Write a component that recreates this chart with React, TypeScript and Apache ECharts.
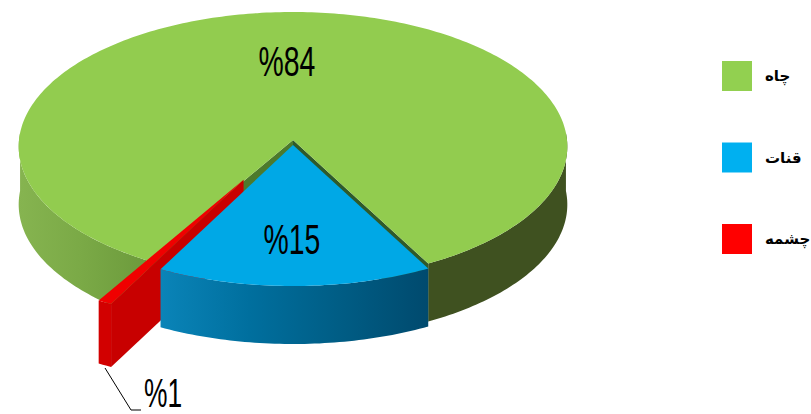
import React, { useEffect, useRef } from "react";
import * as echarts from "echarts";

const sliceNames = ["چاه", "قنات", "چشمه"];
const sliceValues = [83.71, 15.49, 0.8];
const sliceLabels = ["%84", "%15", "%1"];
const legendColors = ["#92d050", "#00b0f0", "#ff0000"];

const FIRST_ANGLE = 61.8; // where the blue slice starts, degrees clockwise on screen
const APEX_X = 293, APEX_Y = 140, RX = 274, RY = 134.2, K = -0.0483, DEPTH = 58;
const total = sliceValues.reduce((a, b) => a + b, 0);
const deg = (v: number) => (v / total) * 360;

function P(t: number, dx = 0, dy = 0): number[] {
  const a = (t * Math.PI) / 180;
  const w = 1 + K * Math.sin(a);
  return [APEX_X + (RX * Math.cos(a)) / w + dx, APEX_Y + (RY * Math.sin(a)) / w + dy];
}
function arc(a: number, b: number, dx = 0, dy = 0, depth = 0): number[][] {
  const pts: number[][] = [];
  const n = Math.max(2, Math.ceil(Math.abs(b - a)));
  for (let i = 0; i <= n; i++) pts.push(P(a + ((b - a) * i) / n, dx, dy + depth));
  return pts;
}
const poly = (points: number[][], fill: any) => ({ type: "polygon", silent: true, shape: { points }, style: { fill, stroke: null } });
const hgrad = (stops: string[]) =>
  new echarts.graphic.LinearGradient(0, 0, 1, 0, stops.map((color, i) => ({ offset: i / (stops.length - 1), color })));
const wall = (a: number, b: number, dx: number, dy: number, fill: any, depth = DEPTH) =>
  poly([...arc(a, b, dx, dy), ...arc(b, a, dx, dy, depth)], fill);
const label = (text: string, x: number, y: number, fontSize = 43) => ({
  type: "text", silent: true, x, y, scaleX: 0.66,
  style: { text, fill: "#000", fontSize, fontFamily: "'Liberation Sans', sans-serif", textAlign: "center", textVerticalAlign: "middle" },
});

const blueStart = FIRST_ANGLE;
const blueEnd = blueStart + deg(sliceValues[1]);
const redEnd = blueEnd + deg(sliceValues[2]);
const greenEnd = redEnd + deg(sliceValues[0]);

function renderGreen() {
  return {
    type: "group",
    children: [
      wall(redEnd, 183, 0, 0, hgrad(["#86b450", "#7aa946", "#6c9a3c"])),
      wall(357, greenEnd, 0, 0, "#3f5120"),
      poly([[APEX_X, APEX_Y], P(blueStart), P(blueStart, 0, DEPTH), [APEX_X, APEX_Y + DEPTH]], "#2f5a2a"),
      poly([[APEX_X, APEX_Y], P(redEnd), P(redEnd, 0, DEPTH), [APEX_X, APEX_Y + DEPTH]], "#4d7a2c"),
      poly([[APEX_X, APEX_Y], ...arc(redEnd, greenEnd)], "#92cc4f"),
      label(sliceLabels[0], 287, 61),
    ],
  };
}
function renderRed() {
  const mid = P((blueEnd + redEnd) / 2);
  const len = Math.hypot(mid[0] - APEX_X, mid[1] - APEX_Y);
  const ex = (66 * (mid[0] - APEX_X)) / len, ey = (60 * (mid[1] - APEX_Y)) / len;
  const tip = [APEX_X + ex, APEX_Y + ey];
  const depth = DEPTH + 5;
  return {
    type: "group",
    children: [
      poly([tip, P(blueEnd, ex, ey), P(blueEnd, ex, ey + depth), [tip[0], tip[1] + depth]], "#c80000"),
      wall(blueEnd, redEnd, ex, ey, "#d20000", depth),
      poly([tip, ...arc(blueEnd, redEnd, ex, ey)], "#f00000"),
      { type: "polyline", silent: true, shape: { points: [[105, 368], [131, 410], [141, 410]] }, style: { stroke: "#000", lineWidth: 1, fill: null } },
      label(sliceLabels[2], 163, 393, 40),
    ],
  };
}
function renderBlue() {
  const ey = 5;
  return {
    type: "group",
    children: [
      wall(blueStart, blueEnd, 0, ey, hgrad(["#0a84b8", "#006f9e", "#005d85", "#004a6e"])),
      poly([[APEX_X, APEX_Y + ey], ...arc(blueStart, blueEnd, 0, ey)], "#00a8e6"),
      label(sliceLabels[1], 292, 239),
    ],
  };
}

const legendNames = sliceNames;
const renderers = [renderGreen, renderBlue, renderRed];
const drawOrder = [0, 2, 1];

export default function App() {
  const ref = useRef<HTMLDivElement>(null);
  useEffect(() => {
    document.body.style.margin = "0";
    const chart = echarts.init(ref.current!, undefined, { renderer: "svg" });
    chart.setOption({
      animation: false,
      backgroundColor: "#fff",
      legend: {
        orient: "vertical",
        left: 722,
        top: 61,
        padding: 0,
        itemWidth: 30,
        itemHeight: 30,
        itemGap: 51.5,
        selectedMode: false,
        icon: "rect",
        textStyle: { color: "#000", fontFamily: "'DejaVu Sans', sans-serif", fontWeight: "bold", fontSize: 15, padding: [6, 0, 0, 8] },
        data: legendNames.map((name, i) => ({ name, itemStyle: { color: legendColors[i] } })),
      },
      series: drawOrder.map((i, order) => ({
        type: "custom",
        name: sliceNames[i],
        coordinateSystem: "none",
        z: order + 2,
        itemStyle: { color: legendColors[i] },
        data: [[sliceValues[i]]],
        renderItem: () => renderers[i](),
      })),
    });
    return () => chart.dispose();
  }, []);
  return <div ref={ref} style={{ width: 811, height: 414, position: "absolute", left: 0, top: 0 }} />;
}
